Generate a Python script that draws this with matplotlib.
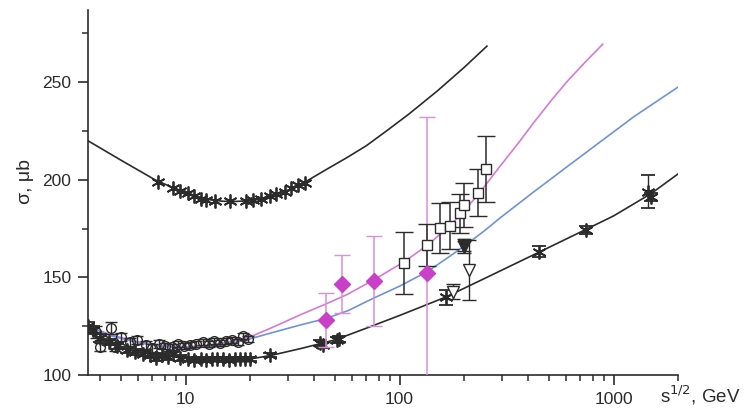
import matplotlib.pyplot as plt

plt.rcParams['font.family'] = ['Liberation Sans', 'DejaVu Sans']

# fit curves
upper_x = [3.5, 5.0, 7.2, 8.5, 10, 11.5, 13, 15, 17, 20, 23, 27, 32, 37, 45, 57, 70, 88, 110, 150, 200, 256]
upper_y = [220, 210, 200, 196.5, 193.5, 191.3, 189.8, 189, 188.9, 189.3, 190.3, 192.5, 195.8, 199.5, 205, 211.5, 217.5, 225.5, 233.5, 245.5, 257.5, 268.5]

lower_x = [3.5, 4.2, 5, 6, 7, 8.5, 10, 12.5, 15, 20, 25, 35, 50, 70, 100, 165, 250, 450, 740, 1000, 1500, 2000]
lower_y = [124, 120, 116, 113, 111, 109.5, 108.5, 107.8, 107.6, 108.2, 110, 113.7, 118, 124, 130.5, 140, 149.5, 163, 174.5, 181.5, 193, 203]

pink_x = [3.5, 4.5, 6, 8, 10, 13, 16, 20, 25, 34.3, 45.5, 57.5, 75.6, 105, 135, 160, 193, 235, 295, 360, 425, 510, 608, 740, 890]
pink_y = [125, 120.5, 117, 115, 114.5, 115.3, 117, 119.5, 124, 130.8, 136.5, 141.5, 148.7, 158, 166.5, 173.5, 182, 193, 207, 219, 229.5, 240.5, 250.5, 260.5, 269.5]

blue_x = [3.5, 4.5, 6, 8, 10, 13, 16, 20, 25, 34.3, 45.5, 57.5, 76, 100, 135, 170, 200, 250, 295, 420, 608, 880, 1250, 2000]
blue_y = [125, 120, 116.5, 114.5, 114, 114.5, 116, 118.5, 121.5, 125.6, 129, 133, 139.5, 145.5, 153, 160.5, 166, 174, 180.5, 193.5, 206.8, 220, 232.5, 247.5]

# upper asterisks
ast_up_x = [7.4, 8.7, 9.4, 10.25, 11.0, 11.8, 12.5, 13.7, 16.1, 19.2, 20.7, 22.6, 24.7, 26.6, 29.1, 31.2, 33.6, 36.1]
ast_up_y = [199, 195.7, 194.5, 193.2, 191.5, 190.1, 189.7, 188.9, 188.9, 189.2, 189.7, 190.2, 191.5, 192.8, 194, 195.7, 197.1, 198.6]

# lower asterisks
ast_lo_x = [3.5, 3.7, 4.0, 4.4, 4.8, 5.3, 5.8, 6.3, 6.8, 7.3, 7.8, 8.3, 8.75, 9.4, 10.3, 11, 11.8, 12.5, 13.3,
            14, 15, 16, 17, 18, 19, 20, 24.7, 42.5, 44, 50.9, 52, 164, 448, 741, 1450, 1500]
ast_lo_y = [125, 123, 119, 117, 115, 112.8, 112, 111, 110, 108.5, 110, 109, 111, 108.5, 108, 107.8, 108, 107.5, 108,
            108, 108, 107.8, 108, 108, 108.2, 108, 110.3, 116.2, 115.5, 118, 118.5, 139.8, 163.2, 174.4, 194, 191]
ast_lo_err = [2, 2, 2, 1.5, 1.5, 1.5, 1.5, 1.5, 1.5, 1.5, 1.5, 1.5, 1.5, 1.5, 1, 1, 1, 1, 1,
              1, 1, 1, 1, 1, 1, 1, 1, 1.5, 1.5, 1.5, 1.5, 4, 3, 2, 8.5, 2]

# open circles
circ_x = [3.8, 4.0, 4.5, 4.7, 5.0, 5.5, 5.9, 6.5, 7.0, 7.5, 8.0, 8.6, 9.2, 9.8, 10.5, 11.2, 12.0, 12.8, 13.6, 14.5, 15.5, 16.5, 17.5, 18.5, 19.5]
circ_y = [122, 114.5, 124, 114.5, 119.5, 117, 118, 115.5, 114, 116, 115, 114.5, 116, 115, 115.5, 116, 117, 116, 117.5, 116.5, 117.5, 118, 117, 120, 118.5]
circ_err = [3, 2, 3, 2, 2, 2, 2, 2, 2, 2, 1.5, 1.5, 1.5, 1.5, 1.5, 1.5, 1.5, 1.5, 1.5, 1.5, 1.5, 1.5, 1.5, 1.5, 1.5]

# magenta diamonds
dia_x = [45.4, 53.8, 75.6, 134.6]
dia_y = [128.2, 146.7, 148.3, 152.1]
dia_err = [13.7, 15, 23, 80]

# open squares
sq_x = [104.5, 134.6, 154.3, 172.9, 191.1, 201, 233.6, 252.7]
sq_y = [157.3, 166.7, 175.2, 176.4, 182.9, 187.2, 193.5, 205.5]
sq_err = [16, 10.8, 12.8, 12, 10, 11.4, 12, 16.7]

# triangles
tri_f_x = [199.7, 201]
tri_f_y = [165.5, 166.5]
tri_f_err = [3, 3]
tri_o_x = [178, 210.6]
tri_o_y = [142.7, 153.8]
tri_o_err = [4, 15.3]

fig = plt.figure(figsize=(7.44, 4.12), dpi=100)
ax = fig.add_axes([88 / 744, 37 / 412, 590 / 744, 365 / 412])

dark = '#2b2b2b'
pink = '#d77ad6'
blue = '#6f93d8'

ax.plot(upper_x, upper_y, color=dark, lw=1.2, zorder=2)
ax.plot(lower_x, lower_y, color=dark, lw=1.2, zorder=2)
ax.plot(pink_x, pink_y, color=pink, lw=1.2, zorder=2)
ax.plot(blue_x, blue_y, color=blue, lw=1.2, zorder=2)

star = (6, 2, 0)
ax.plot(ast_up_x, ast_up_y, ls='none', marker=star, ms=10, mec=dark, mew=1.3, zorder=3)
ax.errorbar(ast_lo_x, ast_lo_y, yerr=ast_lo_err, ls='none', marker=star, ms=10, mec=dark, mew=1.3,
            ecolor=dark, elinewidth=1, capsize=5, zorder=3)
ax.errorbar(circ_x, circ_y, yerr=circ_err, ls='none', marker='o', ms=7, mfc='none', mec=dark, mew=1,
            ecolor=dark, elinewidth=1, capsize=4, zorder=3)
ax.errorbar(dia_x, dia_y, yerr=dia_err, ls='none', marker='D', ms=8, mfc='#c93fc8', mec='#c93fc8',
            ecolor='#d88ed8', elinewidth=1.1, capsize=6, zorder=4)
ax.errorbar(sq_x, sq_y, yerr=sq_err, ls='none', marker='s', ms=7, mfc='white', mec=dark, mew=1,
            ecolor=dark, elinewidth=1.1, capsize=6.5, zorder=4)
ax.errorbar(tri_f_x, tri_f_y, yerr=tri_f_err, ls='none', marker='v', ms=9, mfc=dark, mec=dark,
            ecolor=dark, elinewidth=1, capsize=5, zorder=4)
ax.errorbar(tri_o_x, tri_o_y, yerr=tri_o_err, ls='none', marker='v', ms=9, mfc='white', mec=dark, mew=1,
            ecolor=dark, elinewidth=1, capsize=5, zorder=4)

ax.set_xscale('log')
ax.set_xlim(3.5, 2000)
ax.set_ylim(100, 287)
ax.set_xticks([10, 100, 1000])
ax.set_xticklabels(['10', '100', '1000'])
ax.set_yticks([100, 150, 200, 250])
ax.set_yticks([125, 175, 225, 275], minor=True)

for s in ['top', 'right']:
    ax.spines[s].set_visible(False)
for s in ['left', 'bottom']:
    ax.spines[s].set_linewidth(1.2)
    ax.spines[s].set_color(dark)

ax.tick_params(which='major', direction='out', length=7, width=1.2, labelsize=12.5, colors=dark, pad=5)
ax.tick_params(which='minor', direction='out', length=4, width=1.1, colors=dark)
ax.tick_params(axis='x', which='minor', labelbottom=False)

fig.text(25 / 744, 1 - 182 / 412, 'σ, μb', rotation=90, ha='center', va='center', fontsize=14, color=dark)
fig.text(660 / 744, 1 - 395 / 412, 's$^{1/2}$, GeV', ha='left', va='center', fontsize=13.5, color=dark)

fig.savefig('out.png', dpi=100)
